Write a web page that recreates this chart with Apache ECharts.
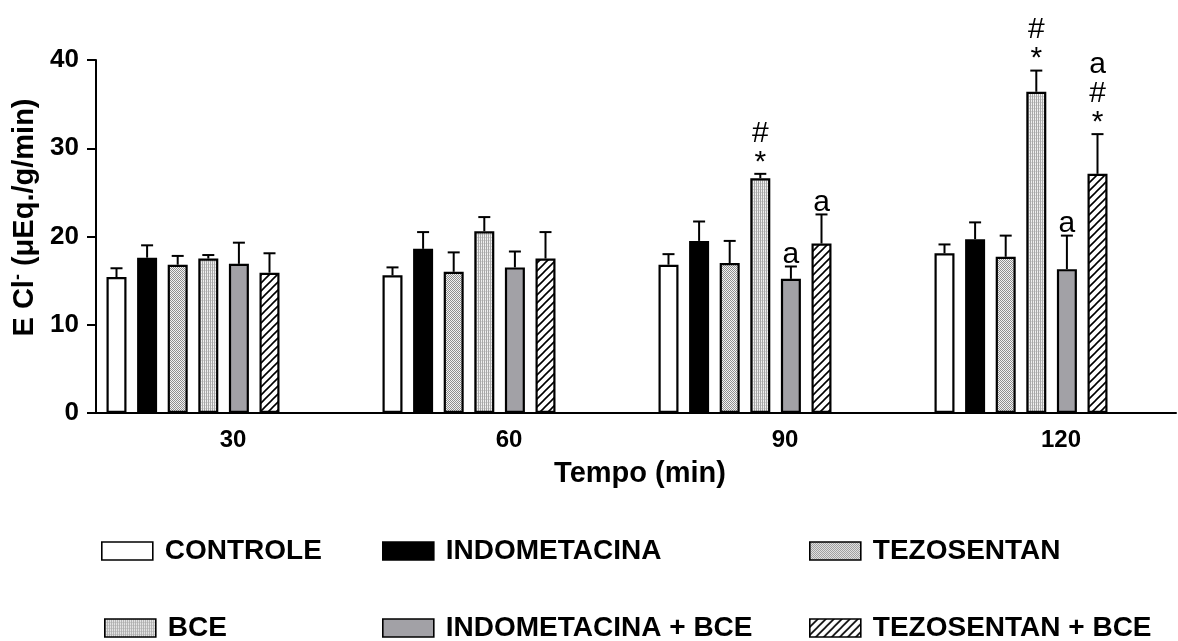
<!DOCTYPE html>
<html>
<head>
<meta charset="utf-8">
<script src="https://cdn.jsdelivr.net/npm/echarts@6/dist/echarts.min.js"></script>
<style>
html,body{margin:0;padding:0;background:#fff;}
#chart{width:1178px;height:641px;}
</style>
</head>
<body>
<div id="chart"></div>
<script>
// ---------- data ----------
const categories = ['30', '60', '90', '120'];
const seriesNames = ['CONTROLE', 'INDOMETACINA', 'TEZOSENTAN', 'BCE', 'INDOMETACINA + BCE', 'TEZOSENTAN + BCE'];
const yTicks = [0, 10, 20, 30, 40];

const controle        = [15.4, 15.6, 16.8, 18.1];
const controleErr     = [1.0, 0.9, 1.2, 1.0];
const indometacina    = [17.6, 18.6, 19.5, 19.7];
const indometacinaErr = [1.4, 1.9, 2.2, 1.9];
const tezosentan      = [16.8, 16.0, 17.0, 17.7];
const tezosentanErr   = [1.0, 2.2, 2.5, 2.4];
const bce             = [17.5, 20.6, 26.6, 36.4];
const bceErr          = [0.4, 1.6, 0.5, 2.4];
const indoBce         = [16.9, 16.5, 15.2, 16.3];
const indoBceErr      = [2.4, 1.8, 1.4, 3.8];
const tezoBce         = [15.9, 17.5, 19.2, 27.1];
const tezoBceErr      = [2.2, 3.0, 3.3, 4.5];

const controleMarks     = ['', '', '', ''];
const indometacinaMarks = ['', '', '', ''];
const tezosentanMarks   = ['', '', '', ''];
const bceMarks          = ['', '', '#\n*', '#\n*'];
const indoBceMarks      = ['', '', 'a', 'a'];
const tezoBceMarks      = ['', '', 'a', 'a\n#\n*'];

const means = [controle, indometacina, tezosentan, bce, indoBce, tezoBce];
const errs  = [controleErr, indometacinaErr, tezosentanErr, bceErr, indoBceErr, tezoBceErr];
const marks = [controleMarks, indometacinaMarks, tezosentanMarks, bceMarks, indoBceMarks, tezoBceMarks];

// ---------- patterns ----------
function makeCanvas(w, h, draw) {
  const c = document.createElement('canvas');
  c.width = w; c.height = h;
  const ctx = c.getContext('2d');
  draw(ctx);
  return c;
}
const checker = makeCanvas(2, 2, ctx => {
  ctx.fillStyle = '#f2f2f2'; ctx.fillRect(0, 0, 2, 2);
  ctx.fillStyle = '#8e8e8e'; ctx.fillRect(0, 0, 1, 1); ctx.fillRect(1, 1, 1, 1);
});
const vstripe = makeCanvas(2, 3, ctx => {
  ctx.fillStyle = '#f0f0f0'; ctx.fillRect(0, 0, 2, 3);
  ctx.fillStyle = '#a8a8a8'; ctx.fillRect(0, 0, 1, 3);
  ctx.fillStyle = '#d0d0d0'; ctx.fillRect(1, 0, 1, 1);
});
const hatch = makeCanvas(8, 8, ctx => {
  ctx.fillStyle = '#ffffff'; ctx.fillRect(0, 0, 8, 8);
  ctx.strokeStyle = '#000'; ctx.lineWidth = 1.6;
  ctx.beginPath();
  ctx.moveTo(-1, 9); ctx.lineTo(9, -1);
  ctx.moveTo(-1, 1); ctx.lineTo(1, -1);
  ctx.moveTo(7, 9); ctx.lineTo(9, 7);
  ctx.stroke();
});
const fills = [
  '#ffffff',
  '#000000',
  { image: checker, repeat: 'repeat' },
  { image: vstripe, repeat: 'repeat' },
  '#a2a1a6',
  { image: hatch, repeat: 'repeat' }
];

// ---------- layout constants ----------
const FONT = '"Liberation Sans", Arial, Helvetica, sans-serif';
const BAR_W = 20;
const BAR_GAP = 0.53;
const PITCH = BAR_W * (1 + BAR_GAP);
const N = seriesNames.length;

const barSeries = seriesNames.map((name, i) => ({
  name: name,
  type: 'bar',
  xAxisIndex: 0,
  yAxisIndex: 0,
  barWidth: BAR_W,
  barGap: (BAR_GAP * 100) + '%',
  data: means[i],
  itemStyle: { color: fills[i], borderColor: '#000', borderWidth: 2.2 },
  emphasis: { disabled: true },
  z: 2
}));

const errSeries = seriesNames.map((name, i) => ({
  type: 'custom',
  xAxisIndex: 0,
  yAxisIndex: 0,
  z: 3,
  silent: true,
  data: categories.map((c, k) => [k, means[i][k], errs[i][k]]),
  renderItem: function (params, api) {
    const k = api.value(0), m = api.value(1), e = api.value(2);
    const p0 = api.coord([k, m]);
    const p1 = api.coord([k, m + e]);
    const x = p0[0] + (i - (N - 1) / 2) * PITCH;
    const children = [
      { type: 'line', shape: { x1: x, y1: p0[1], x2: x, y2: p1[1] }, style: { stroke: '#000', lineWidth: 2 } },
      { type: 'line', shape: { x1: x - 6, y1: p1[1], x2: x + 6, y2: p1[1] }, style: { stroke: '#000', lineWidth: 2 } }
    ];
    const t = marks[i][params.dataIndex];
    if (t) {
      children.push({
        type: 'text', x: x, y: p1[1] + 3,
        style: { text: t, fill: '#000', fontFamily: FONT, fontSize: 30, lineHeight: 29, align: 'center', verticalAlign: 'bottom' }
      });
    }
    return { type: 'group', children: children };
  }
}));

const legendText = { fontFamily: FONT, fontSize: 28, fontWeight: 'bold', color: '#000', padding: [0, 0, 0, 7] };
function legendItem(name, left, top) {
  return {
    data: [name], left: left, top: top, padding: 0,
    itemWidth: 51, itemHeight: 18, icon: 'rect', selectedMode: false,
    itemStyle: { borderColor: '#000', borderWidth: 1.6 },
    textStyle: legendText
  };
}

const option = {
  animation: false,
  backgroundColor: '#fff',
  grid: [
    { left: 55, right: 19, top: 60, bottom: 228 },
    { left: 96, right: 2, top: 60, bottom: 228 }
  ],
  legend: [
    legendItem(seriesNames[0], 101, 537),
    legendItem(seriesNames[1], 382, 537),
    legendItem(seriesNames[2], 809, 537),
    legendItem(seriesNames[3], 104, 614),
    legendItem(seriesNames[4], 382, 614),
    legendItem(seriesNames[5], 809, 614)
  ],
  xAxis: [
    {
      type: 'category', gridIndex: 0, data: categories,
      axisLine: { show: false }, axisTick: { show: false },
      axisLabel: { fontFamily: FONT, fontSize: 24, fontWeight: 'bold', color: '#000', margin: 15, padding: [0, 0, 0, 80] }
    },
    {
      type: 'value', gridIndex: 1, min: 0, max: 1,
      axisLine: { show: true, lineStyle: { color: '#000', width: 2 } },
      axisTick: { show: false }, axisLabel: { show: false }, splitLine: { show: false },
      name: 'Tempo (min)', nameLocation: 'middle', nameGap: 46,
      nameTextStyle: { fontFamily: FONT, fontSize: 29, fontWeight: 'bold', color: '#000', padding: [0, 0, 0, 8] }
    }
  ],
  yAxis: [
    { type: 'value', gridIndex: 0, min: 0, max: 40, show: false },
    {
      type: 'value', gridIndex: 1, min: yTicks[0], max: yTicks[yTicks.length - 1], interval: 10,
      axisLine: { show: true, lineStyle: { color: '#000', width: 2 } },
      axisTick: { show: true, length: 9, lineStyle: { color: '#000', width: 2 } },
      axisLabel: { fontFamily: FONT, fontSize: 26, fontWeight: 'bold', color: '#000', margin: 17 },
      splitLine: { show: false },
      name: 'E Cl{sup|-} (μEq./g/min)', nameLocation: 'middle', nameGap: 52,
      nameTextStyle: {
        fontFamily: FONT, fontSize: 29, fontWeight: 'bold', color: '#000', padding: [0, 0, 0, 38],
        rich: { sup: { fontFamily: FONT, fontSize: 18, fontWeight: 'bold', color: '#000', verticalAlign: 'top', padding: [0, 0, 14, 0] } }
      }
    }
  ],
  series: barSeries.concat(errSeries)
};

const chart = echarts.init(document.getElementById('chart'), null, { renderer: 'canvas' });
chart.setOption(option);
</script>
</body>
</html>
